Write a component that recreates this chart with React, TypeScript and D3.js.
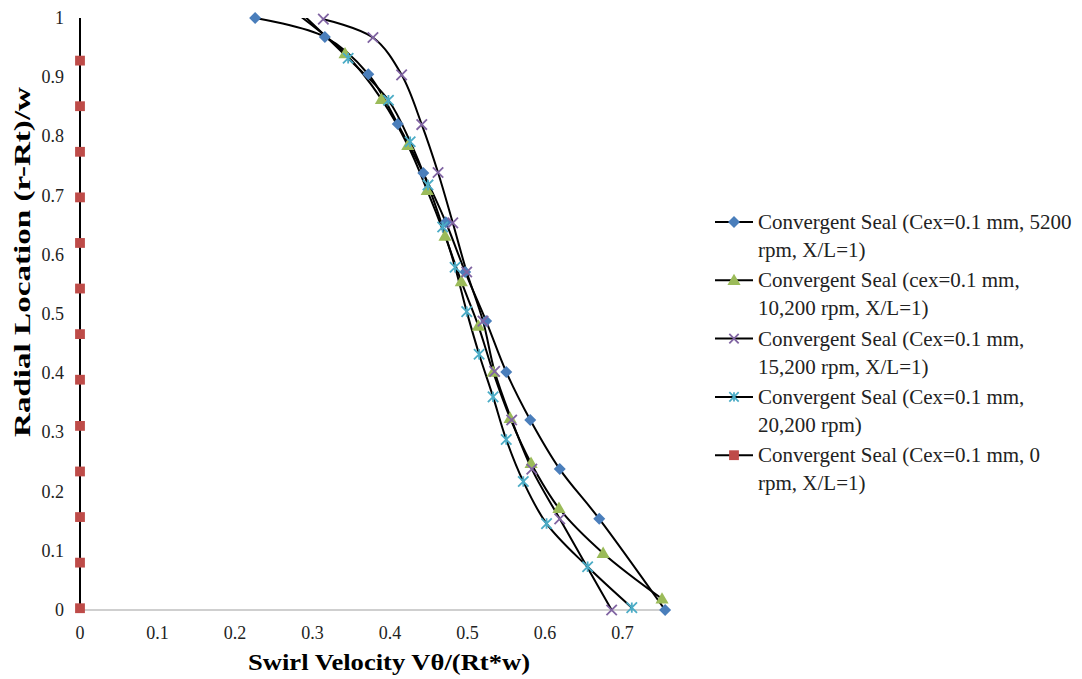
import React, { useEffect, useRef } from 'react';
import * as d3 from 'd3';

const W = 1082;
const H = 679;

const xTicks = [0, 0.1, 0.2, 0.3, 0.4, 0.5, 0.6, 0.7];
const yTicks = [0, 0.1, 0.2, 0.3, 0.4, 0.5, 0.6, 0.7, 0.8, 0.9, 1];

// Convergent Seal, 5200 rpm
const x5200 = [0.226, 0.316, 0.372, 0.41, 0.443, 0.472, 0.497, 0.524, 0.55, 0.581, 0.619, 0.67, 0.755];
const y5200 = [1.0, 0.968, 0.905, 0.821, 0.738, 0.655, 0.571, 0.488, 0.402, 0.321, 0.238, 0.154, 0.0];

// Convergent Seal, 10,200 rpm (first point sits just above the axis max)
const x10200 = [0.27, 0.342, 0.389, 0.423, 0.448, 0.471, 0.492, 0.514, 0.533, 0.555, 0.582, 0.618, 0.675, 0.751];
const y10200 = [1.017, 0.94, 0.863, 0.785, 0.709, 0.632, 0.555, 0.48, 0.402, 0.324, 0.248, 0.172, 0.096, 0.019];

// Convergent Seal, 15,200 rpm
const x15200 = [0.314, 0.378, 0.415, 0.441, 0.462, 0.481, 0.499, 0.52, 0.535, 0.557, 0.583, 0.619, 0.686];
const y15200 = [0.998, 0.967, 0.904, 0.82, 0.739, 0.654, 0.571, 0.488, 0.403, 0.321, 0.238, 0.154, 0.0];

// Convergent Seal, 20,200 rpm
const x20200 = [0.289, 0.346, 0.398, 0.426, 0.449, 0.468, 0.484, 0.499, 0.515, 0.533, 0.55, 0.572, 0.602, 0.655, 0.712];
const y20200 = [1.004, 0.932, 0.861, 0.791, 0.718, 0.647, 0.579, 0.504, 0.432, 0.36, 0.288, 0.217, 0.146, 0.073, 0.004];

// Convergent Seal, 0 rpm
const x0 = [0, 0, 0, 0, 0, 0, 0, 0, 0, 0, 0, 0, 0, 0];
const y0 = [0.003, 0.08, 0.157, 0.234, 0.311, 0.389, 0.466, 0.543, 0.62, 0.697, 0.774, 0.851, 0.928, 1.005];

const seriesNames = [
  ['Convergent Seal (Cex=0.1 mm, 5200', 'rpm, X/L=1)'],
  ['Convergent Seal (cex=0.1 mm,', '10,200 rpm, X/L=1)'],
  ['Convergent Seal (Cex=0.1 mm,', '15,200 rpm, X/L=1)'],
  ['Convergent Seal (Cex=0.1 mm,', '20,200 rpm)'],
  ['Convergent Seal (Cex=0.1 mm, 0', 'rpm, X/L=1)'],
];
const seriesX = [x5200, x10200, x15200, x20200, x0];
const seriesY = [y5200, y10200, y15200, y20200, y0];
const seriesColors = ['#4A7EBB', '#9BBB59', '#8064A2', '#4BACC6', '#BE4B48'];
const seriesMarkers = ['diamond', 'triangle', 'x', 'star', 'square'];

const FONT = "'Liberation Serif', serif";

function drawMarker(g: any, kind: string, color: string, cx: number, cy: number, scale = 1) {
  if (kind === 'diamond') {
    g.append('path')
      .attr('d', d3.symbol().type(d3.symbolSquare).size(72 * scale)())
      .attr('transform', `translate(${cx},${cy}) rotate(45)`)
      .attr('fill', color);
  } else if (kind === 'triangle') {
    g.append('path')
      .attr('d', d3.symbol().type(d3.symbolTriangle).size(75 * scale)())
      .attr('transform', `translate(${cx},${cy + 1})`)
      .attr('fill', color);
  } else if (kind === 'square') {
    g.append('path')
      .attr('d', d3.symbol().type(d3.symbolSquare).size(96 * scale)())
      .attr('transform', `translate(${cx},${cy})`)
      .attr('fill', color);
  } else {
    const r = 5.2 * scale;
    let d = `M${-r},${-r}L${r},${r}M${-r},${r}L${r},${-r}`;
    if (kind === 'star') d += `M0,${-r}L0,${r}`;
    g.append('path')
      .attr('d', d)
      .attr('transform', `translate(${cx},${cy})`)
      .attr('fill', 'none')
      .attr('stroke', color)
      .attr('stroke-width', 1.8);
  }
}

function Chart() {
  const svgRef = useRef<SVGSVGElement>(null);

  useEffect(() => {
    const svg = d3.select(svgRef.current);
    svg.selectAll('*').remove();

    const x = d3.scaleLinear().domain([0, 0.76]).range([80, 669]);
    const y = d3.scaleLinear().domain([0, 1]).range([610, 18]);

    svg.append('rect').attr('width', W).attr('height', H).attr('fill', '#fff');

    svg.append('defs').append('clipPath').attr('id', 'plotClip')
      .append('rect').attr('x', 60).attr('y', y(1)).attr('width', 640).attr('height', 600);

    // axes lines
    svg.append('line')
      .attr('x1', x(0)).attr('x2', x(0.76)).attr('y1', y(0)).attr('y2', y(0))
      .attr('stroke', '#bfbfbf').attr('stroke-width', 1.5);
    svg.append('line')
      .attr('x1', x(0)).attr('x2', x(0)).attr('y1', y(0)).attr('y2', y(1))
      .attr('stroke', '#bfbfbf').attr('stroke-width', 1.5);

    // tick labels
    svg.append('g').selectAll('text').data(xTicks).join('text')
      .attr('x', d => x(d)).attr('y', 639)
      .attr('text-anchor', 'middle')
      .style('font-family', FONT).attr('font-size', 18).attr('fill', '#222')
      .text(d => String(d));
    svg.append('g').selectAll('text').data(yTicks).join('text')
      .attr('x', 64).attr('y', d => y(d) + 6)
      .attr('text-anchor', 'end')
      .style('font-family', FONT).attr('font-size', 18).attr('fill', '#222')
      .text(d => String(d));

    // axis titles
    svg.append('text')
      .attr('x', 389).attr('y', 670)
      .attr('text-anchor', 'middle')
      .attr('textLength', 282).attr('lengthAdjust', 'spacingAndGlyphs')
      .style('font-family', FONT).attr('font-size', 24).attr('font-weight', 'bold')
      .text('Swirl Velocity Vθ/(Rt*w)');
    svg.append('text')
      .attr('transform', `translate(30, 262) rotate(-90)`)
      .attr('text-anchor', 'middle')
      .attr('textLength', 350).attr('lengthAdjust', 'spacingAndGlyphs')
      .style('font-family', FONT).attr('font-size', 24).attr('font-weight', 'bold')
      .text('Radial Location (r-Rt)/w');

    // series lines
    const line = d3.line<[number, number]>()
      .x(d => x(d[0])).y(d => y(d[1]))
      .curve(d3.curveCatmullRom.alpha(0.5));
    const linesG = svg.append('g').attr('clip-path', 'url(#plotClip)');
    seriesX.forEach((xs, i) => {
      const pts = xs.map((v, j) => [v, seriesY[i][j]] as [number, number]);
      linesG.append('path')
        .attr('d', line(pts))
        .attr('fill', 'none')
        .attr('stroke', '#000')
        .attr('stroke-width', 2);
    });

    // markers (only points inside the axis range)
    const markG = svg.append('g');
    seriesX.forEach((xs, i) => {
      xs.forEach((v, j) => {
        const yv = seriesY[i][j];
        if (yv > 1) return;
        drawMarker(markG, seriesMarkers[i], seriesColors[i], x(v), y(yv));
      });
    });

    // legend
    const legend = svg.append('g');
    seriesNames.forEach((lines, i) => {
      const top = 222 + i * 58.3;
      legend.append('line')
        .attr('x1', 715).attr('x2', 753).attr('y1', top).attr('y2', top)
        .attr('stroke', '#000').attr('stroke-width', 2);
      drawMarker(legend, seriesMarkers[i], seriesColors[i], 734, top, seriesMarkers[i] === 'x' || seriesMarkers[i] === 'star' ? 0.9 : 1);
      lines.forEach((t, k) => {
        legend.append('text')
          .attr('x', 758).attr('y', top + 7 + k * 28)
          .style('font-family', FONT).attr('font-size', 21).attr('fill', '#222')
          .text(t);
      });
    });
  }, []);

  return <svg ref={svgRef} width={W} height={H} style={{ position: 'absolute', left: 0, top: 0 }} />;
}

export default function App() {
  return <Chart />;
}
